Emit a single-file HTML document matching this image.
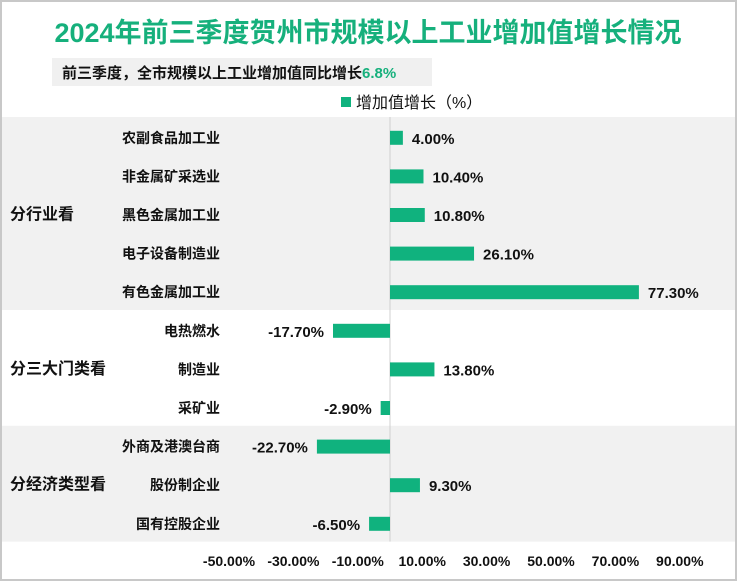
<!DOCTYPE html>
<html><head><meta charset="utf-8"><style>
body{margin:0;background:#fff;}
#wrap{position:relative;width:737px;height:581px;overflow:hidden;font-family:"Liberation Sans","Noto Sans CJK SC",sans-serif;}
</style></head><body>
<div id="wrap">
<svg id="chart" width="737" height="581" xmlns="http://www.w3.org/2000/svg">
<rect x="1" y="1" width="735" height="579" fill="#fff" stroke="#c8c8c8" stroke-width="2"/>
<text x="368" y="42" text-anchor="middle" font-size="27" font-weight="bold" fill="#16b07c" font-family="Liberation Sans, Noto Sans CJK SC, sans-serif">2024年前三季度贺州市规模以上工业增加值增长情况</text>
<rect x="52" y="58" width="380" height="28" fill="#f0f0f0"/>
<text x="62" y="78" font-size="15" font-weight="bold" fill="#111">前三季度，全市规模以上工业增加值同比增长<tspan fill="#16b07c">6.8%</tspan></text>
<rect x="341" y="97" width="10" height="10" fill="#10b27e"/>
<text x="356" y="108" font-size="16" fill="#111">增加值增长（%）</text>
<g id="bands"></g><g id="marks"></g>
</svg></div>
<script>
const categories=["农副食品加工业","非金属矿采选业","黑色金属加工业","电子设备制造业","有色金属加工业","电热燃水","制造业","采矿业","外商及港澳台商","股份制企业","国有控股企业"];
const values=[4.0,10.4,10.8,26.1,77.3,-17.7,13.8,-2.9,-22.7,9.3,-6.5];
const groups=["分行业看","分三大门类看","分经济类型看"];
const groupSizes=[5,3,3];
const ticks=[-50,-30,-10,10,30,50,70,90];
const NS="http://www.w3.org/2000/svg";
const top0=117,rowH=38.6,zeroX=390,pxPer=3.22;
const xs=v=>zeroX+v*pxPer;
const ys=i=>top0+rowH*i+rowH/2+1.5;
function mk(tag,attrs,parent,txt){const e=document.createElementNS(NS,tag);for(const k in attrs)e.setAttribute(k,attrs[k]);if(txt!==undefined)e.textContent=txt;parent.appendChild(e);return e;}
const bands=document.getElementById('bands'),marks=document.getElementById('marks');
let start=0;
groups.forEach((g,gi)=>{
  const n=groupSizes[gi];
  if(gi!==1){const r=mk('rect',{x:2,y:top0+start*rowH,width:733,height:n*rowH,fill:'#f1f1f1'},bands);
  
  }
  const t=mk('text',{x:10,y:top0+(start+n/2)*rowH+6,'font-size':16,'font-weight':'bold',fill:'#111'},marks,g);
  
  
  start+=n;
});
const ax=mk('line',{x1:zeroX,x2:zeroX,y1:top0,y2:top0+rowH*categories.length,stroke:'#d0d0d0','stroke-width':1},marks);


categories.forEach((c,i)=>{
  const y=ys(i),v=values[i];
  const l=mk('text',{x:220,y:y+5,'text-anchor':'end','font-size':14,'font-weight':'bold',fill:'#111'},marks,c);
  
  
  const x0=Math.min(xs(0),xs(v)),w=Math.abs(xs(v)-xs(0));
  const b=mk('rect',{x:x0,y:y-7,width:w,height:14,fill:'#10b27e'},marks);
  
  
  const lx=v>=0?xs(v)+9:xs(v)-9;
  const vl=mk('text',{x:lx,y:y+6,'text-anchor':v>=0?'start':'end','font-size':15,'font-weight':'bold',fill:'#111'},marks,v.toFixed(2)+'%');
  
  
});
ticks.forEach(t=>{
  const e=mk('text',{x:xs(t),y:566,'text-anchor':'middle','font-size':14,'font-weight':'bold',fill:'#111'},marks,t.toFixed(2)+'%');
  
  
});
</script>
</body></html>
